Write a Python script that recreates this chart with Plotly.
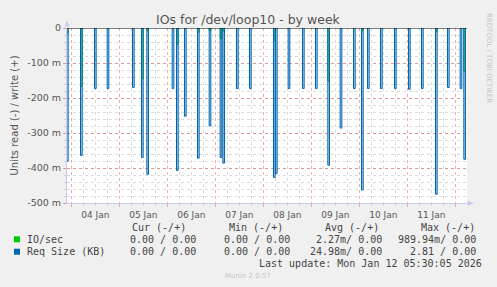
import pandas as pd
import plotly.graph_objects as go

# ---- data (values in milli-units, read direction) ----
spike_times = [
    "2026-01-03 22:00", "2026-01-04 05:00", "2026-01-04 12:00", "2026-01-04 18:20",
    "2026-01-05 07:00", "2026-01-05 11:30", "2026-01-05 14:10", "2026-01-06 02:50",
    "2026-01-06 05:00", "2026-01-06 09:00", "2026-01-06 15:30", "2026-01-06 21:20",
    "2026-01-07 02:50", "2026-01-07 04:10", "2026-01-07 11:00", "2026-01-07 17:30",
    "2026-01-08 05:30", "2026-01-08 06:30", "2026-01-08 12:50", "2026-01-08 20:00",
    "2026-01-09 02:30", "2026-01-09 08:40", "2026-01-09 14:50", "2026-01-09 21:30",
    "2026-01-10 01:30", "2026-01-10 04:30", "2026-01-10 11:00", "2026-01-10 18:00",
    "2026-01-11 01:00", "2026-01-11 07:30", "2026-01-11 14:30", "2026-01-11 20:30",
    "2026-01-12 02:50", "2026-01-12 04:40",
]
req_size_read = [380, 364, 173, 173, 170, 370, 418, 173, 407, 252, 372, 280,
                 370, 386, 173, 173, 427, 416, 173, 173, 173, 392, 286, 173,
                 463, 173, 173, 173, 175, 173, 475, 170, 173, 375]
io_read = [16, 167, 0, 0, 0, 145, 8, 0, 47, 0, 12, 8,
           30, 8, 0, 0, 37, 0, 0, 0, 0, 151, 0, 0,
           8, 0, 0, 0, 0, 0, 10, 0, 0, 124]

y_tick_vals = [0, -100, -200, -300, -400, -500]
y_tick_text = ["0", "-100 m", "-200 m", "-300 m", "-400 m", "-500 m"]

legend_headers = ["Cur (-/+)", "Min (-/+)", "Avg (-/+)", "Max (-/+)"]
series_names = ["IO/sec", "Req Size (KB)"]
series_colors = ["#00CC00", "#0066B3"]
cur_vals = ["0.00 / 0.00", "0.00 / 0.00"]
min_vals = ["0.00 / 0.00", "0.00 / 0.00"]
avg_vals = ["2.27m/ 0.00", "24.98m/ 0.00"]
max_vals = ["989.94m/ 0.00", "2.81 / 0.00"]
last_update = "Last update: Mon Jan 12 05:30:05 2026"

# ---- layout geometry ----
FIG_W, FIG_H = 497, 287
L, R, T, B = 67, 30, 28, 84
PW, PH = FIG_W - L - R, FIG_H - T - B


def px(x):
    return (x - L) / PW


def py(y):
    return (FIG_H - B - y) / PH


SPIKE_W = pd.Timedelta(minutes=50)


def spike_path(times, vals):
    xs, ys = [], []
    for t, v in zip(times, vals):
        if v <= 0:
            continue
        t = pd.Timestamp(t)
        a, b = t - SPIKE_W / 2, t + SPIKE_W / 2
        xs += [a, a, b, b, None]
        ys += [0, -v / 1000, -v / 1000, 0, None]
    return xs, ys


fig = go.Figure()
gx, gy = spike_path(spike_times, io_read)
fig.add_trace(go.Scatter(x=gx, y=gy, mode="lines", fill="toself",
                         fillcolor="rgba(0,204,0,0.35)",
                         line=dict(color="#00CC00", width=1), hoverinfo="skip"))
bx, by = spike_path(spike_times, req_size_read)
fig.add_trace(go.Scatter(x=bx, y=by, mode="lines", fill="toself",
                         fillcolor="rgba(0,102,179,0.3)",
                         line=dict(color="#0066B3", width=1), hoverinfo="skip"))

TXT = "#555555"
GRID_MAJ = "rgba(220,90,90,0.5)"
GRID_MIN = "rgba(150,150,150,0.35)"
AXIS_C = "#c8c8f0"

fig.update_layout(
    width=FIG_W, height=FIG_H,
    margin=dict(l=L, r=R, t=T, b=B, pad=0),
    paper_bgcolor="#F0F0F0", plot_bgcolor="#FFFFFF",
    showlegend=False,
    font=dict(family="DejaVu Sans", size=9, color=TXT),
    xaxis=dict(
        type="date",
        range=["2026-01-03 21:50", "2026-01-12 05:50"],
        dtick=86400000, tick0="2026-01-04 00:00",
        ticklabelmode="period", tickformat="%d %b",
        showgrid=True, gridcolor=GRID_MAJ, griddash="dot", gridwidth=1,
        minor=dict(dtick=6 * 3600 * 1000, tick0="2026-01-04 00:00",
                   showgrid=True, gridcolor=GRID_MIN, griddash="dot",
                   ticks="outside", ticklen=2, tickcolor=GRID_MIN),
        ticks="outside", ticklen=3, tickcolor=GRID_MAJ,
        showline=True, linecolor=AXIS_C, linewidth=1,
        zeroline=False, fixedrange=True,
        tickfont=dict(family="DejaVu Sans", size=9, color=TXT),
    ),
    yaxis=dict(
        range=[-0.5, 0],
        tickvals=[v / 1000 for v in y_tick_vals], ticktext=y_tick_text,
        showgrid=True, gridcolor=GRID_MAJ, griddash="dot", gridwidth=1,
        minor=dict(dtick=0.02, tick0=0, showgrid=True, gridcolor=GRID_MIN,
                   griddash="dot", ticks="outside", ticklen=2, tickcolor=GRID_MIN),
        ticks="outside", ticklen=3, tickcolor=GRID_MAJ,
        showline=True, linecolor=AXIS_C, linewidth=1,
        zeroline=False, fixedrange=True,
        tickfont=dict(family="DejaVu Sans", size=9.5, color=TXT),
        title=dict(text="Units read (-) / write (+)",
                   font=dict(family="DejaVu Sans", size=10, color=TXT),
                   standoff=6),
    ),
)

shapes = [
    dict(type="line", xref="paper", yref="y", x0=0, x1=1, y0=0, y1=0,
         line=dict(color="#000000", width=1), layer="above"),
    dict(type="path", xref="paper", yref="paper", layer="above",
         path=f"M {px(64.5)} {py(26.5)} L {px(69.5)} {py(26.5)} L {px(67)} {py(20.5)} Z",
         fillcolor=AXIS_C, line=dict(width=0)),
    dict(type="path", xref="paper", yref="paper", layer="above",
         path=f"M {px(467.5)} {py(200.8)} L {px(467.5)} {py(205.8)} L {px(474)} {py(203.3)} Z",
         fillcolor=AXIS_C, line=dict(width=0)),
]
for i, c in enumerate(series_colors):
    yc = [239.3, 251.7][i]
    shapes.append(dict(type="rect", xref="paper", yref="paper",
                       x0=px(14), x1=px(20), y0=py(yc + 3), y1=py(yc - 3),
                       fillcolor=c, line=dict(width=0)))
fig.update_layout(shapes=shapes)

MONO = dict(family="DejaVu Sans Mono", size=10, color="#444444")
ann = []


def add(text, x, y, xanchor="left", font=MONO, **kw):
    ann.append(dict(text=text, x=px(x), y=py(y), xref="paper", yref="paper",
                    xanchor=xanchor, yanchor="middle", showarrow=False,
                    font=font, borderpad=0, **kw))


add("IOs for /dev/loop10 - by week", 248.7, 19.3, xanchor="center",
    font=dict(family="DejaVu Sans", size=12.5, color=TXT))
add("RRDTOOL / TOBI OETIKER", 489, 58, xanchor="center",
    font=dict(family="DejaVu Sans", size=7, color="#c4c4c4"), textangle=90)

header_right = [187.3, 284, 380, 476]
for h, xr in zip(legend_headers, header_right):
    add(h, xr, 227.3, xanchor="right")

col_right = [196.7, 290.7, 383.3, 476.7]
rows_y = [239.3, 251.7]
for i, name in enumerate(series_names):
    add(name, 26, rows_y[i])
    for vals, xr in zip([cur_vals, min_vals, avg_vals, max_vals], col_right):
        add(vals[i], xr, rows_y[i], xanchor="right")

add(last_update, 482.7, 263.3, xanchor="right")
add("Munin 2.0.57", 248, 276, xanchor="center",
    font=dict(family="DejaVu Sans", size=7, color="#c4c4c4"))

fig.update_layout(annotations=ann)
fig.write_html("out.html")
